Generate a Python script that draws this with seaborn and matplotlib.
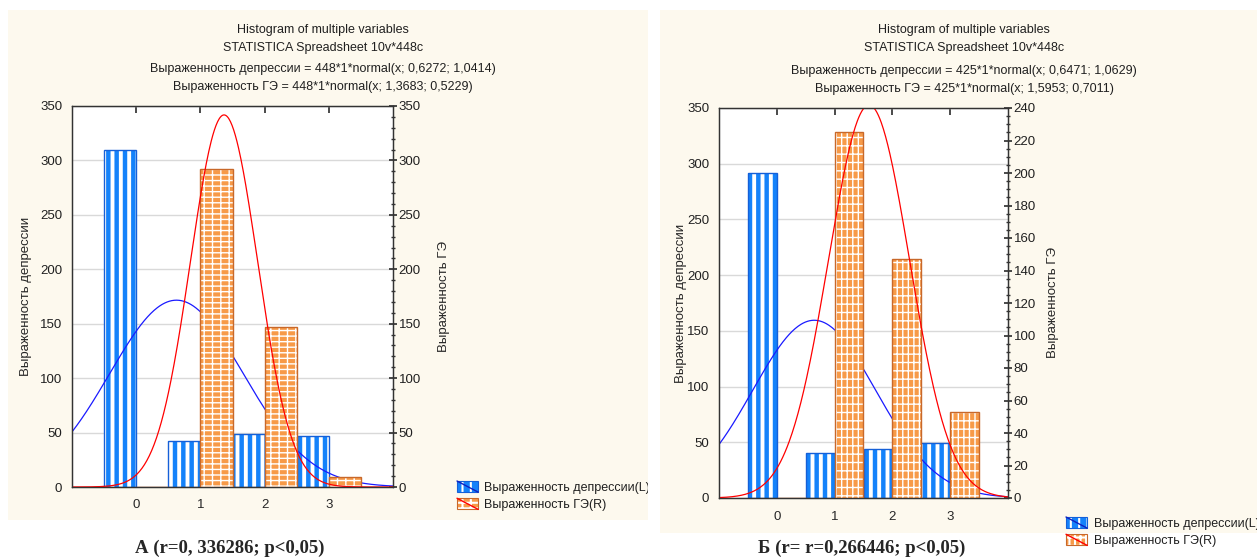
import numpy as np
import pandas as pd
import matplotlib
matplotlib.use('Agg')
import matplotlib.pyplot as plt
import seaborn as sns
from matplotlib.patches import Rectangle, Patch
from matplotlib.lines import Line2D
from matplotlib.legend_handler import HandlerBase
from matplotlib.ticker import MultipleLocator
from matplotlib.transforms import Bbox, TransformedBbox

sns.set_theme(style='white')
plt.rcParams['font.family'] = ['Liberation Sans', 'DejaVu Sans']
plt.rcParams['hatch.linewidth'] = 1.5

# данные
categories = [0, 1, 2, 3]
dep_a = [310, 42, 49, 47]     # Выраженность депрессии, панель А (левая ось)
ge_a = [0, 292, 147, 9]       # Выраженность ГЭ, панель А (правая ось)
dep_b = [292, 40, 44, 49]     # панель Б
ge_b = [0, 225, 147, 53]

# параметры подгонки: n, среднее, sd (из заголовков)
fit_dep_a = [448, 0.6272, 1.0414]
fit_ge_a = [448, 1.3683, 0.5229]
fit_dep_b = [425, 0.6471, 1.0629]
fit_ge_b = [425, 1.5953, 0.7011]

header_a = ['Histogram of multiple variables',
            'STATISTICA Spreadsheet 10v*448c',
            'Выраженность депрессии = 448*1*normal(x; 0,6272; 1,0414)',
            'Выраженность ГЭ = 448*1*normal(x; 1,3683; 0,5229)']
header_b = ['Histogram of multiple variables',
            'STATISTICA Spreadsheet 10v*448c',
            'Выраженность депрессии = 425*1*normal(x; 0,6471; 1,0629)',
            'Выраженность ГЭ = 425*1*normal(x; 1,5953; 0,7011)']
captions = ['А (r=0, 336286; p<0,05)', 'Б (r= r=0,266446; p<0,05)']
legend_labels = ['Выраженность депрессии(L)', 'Выраженность ГЭ(R)']

BG = '#FDF9EE'
BLUE, BLUE_EDGE = '#1482FA', '#1560D8'
ORANGE, ORANGE_EDGE = '#F79A48', '#C8682A'
W, H = 1257, 560


def fx(px):
    return px / W


def fy(py):
    return 1 - py / H


class Swatch(HandlerBase):
    def __init__(self, face, hatch, edge, line):
        super().__init__()
        self.face, self.hatch, self.edge, self.line = face, hatch, edge, line

    def create_artists(self, legend, orig_handle, xdescent, ydescent,
                       width, height, fontsize, trans):
        x0, y0 = -xdescent, -ydescent
        r = Rectangle((x0, y0), width, height, facecolor=self.face,
                      edgecolor='white', hatch=self.hatch, lw=0, transform=trans)
        b = Rectangle((x0, y0), width, height, fill=False,
                      edgecolor=self.edge, lw=0.8, transform=trans)
        ln = Line2D([x0, x0 + width], [y0 + height, y0], color=self.line,
                    lw=1, transform=trans)
        return [r, b, ln]


def normal_curve(fit, xs):
    n, m, s = fit
    return n * np.exp(-0.5 * ((xs - m) / s) ** 2) / (s * np.sqrt(2 * np.pi))


def bars(ax, xpos, vals, face, edge, hatch, hatch_lw):
    df = pd.DataFrame({'x': xpos, 'y': vals})
    n0 = len(ax.patches)
    with plt.rc_context({'hatch.linewidth': hatch_lw}):
        sns.barplot(data=df, x='x', y='y', native_scale=True, width=0.5,
                    color=face, saturation=1, errorbar=None, ax=ax,
                    edgecolor='white', linewidth=0, hatch=hatch)
    for p in ax.patches[n0:]:
        if hasattr(p, 'set_hatch_linewidth'):
            p.set_hatch_linewidth(hatch_lw)
    sns.barplot(data=df, x='x', y='y', native_scale=True, width=0.5,
                color=edge, fill=False, errorbar=None, ax=ax, linewidth=1)


def panel(box, bg, dep, ge, fdep, fge, rmax, rstep, rminor, ge_hatch,
          header, hx, hys, ylab_l, ylab_r, lab_px, leg_xy, clip_x):
    fig.add_artist(Rectangle((fx(bg[0]), fy(bg[3])), fx(bg[2] - bg[0]),
                             (bg[3] - bg[1]) / H, transform=fig.transFigure,
                             facecolor=BG, edgecolor='none', zorder=-5))
    x0, y0, x1, y1 = box
    ax = fig.add_axes([fx(x0), fy(y1), fx(x1 - x0), (y1 - y0) / H])
    ax.set_facecolor('white')
    ax2 = ax.twinx()

    cats = np.array(categories, dtype=float)
    xs = np.linspace(-1, 4, 400)

    bars(ax, cats - 0.25, dep, BLUE, BLUE_EDGE, '||', 2.8)
    sns.lineplot(x=xs, y=normal_curve(fdep, xs), ax=ax, color='#1A1AFF', lw=0.9)
    bars(ax2, cats + 0.25, ge, ORANGE, ORANGE_EDGE, ge_hatch, 1.0)
    sns.lineplot(x=xs, y=normal_curve(fge, xs), ax=ax2, color='#FF0000', lw=0.9)

    ax.set_xlim(-1, 4)
    ax.set_ylim(0, 350)
    ax2.set_ylim(0, rmax)
    ax.set_xticks(categories)
    ax.set_xticklabels([str(c) for c in categories])
    ax.yaxis.set_major_locator(MultipleLocator(50))
    ax2.yaxis.set_major_locator(MultipleLocator(rstep))
    ax2.yaxis.set_minor_locator(MultipleLocator(rminor))
    ax.set_axisbelow(True)
    ax.yaxis.grid(True, color='#D9D9D9', lw=1)
    ax.xaxis.grid(False)
    ax.tick_params(axis='x', bottom=False, top=True, labelbottom=True,
                   direction='in', length=5, color='#333333', labelsize=9.5, pad=9)
    ax.tick_params(axis='y', length=0, labelsize=9.5, pad=7, labelcolor='#202020')
    ax2.tick_params(axis='y', which='major', direction='inout', length=6,
                    right=True, color='#333333', labelsize=9.5, pad=1,
                    labelcolor='#202020')
    ax2.tick_params(axis='y', which='minor', direction='inout', length=3,
                    right=True, color='#333333')
    for a in (ax, ax2):
        for s in a.spines.values():
            s.set_color('#333333')
            s.set_linewidth(0.9)
            s.set_visible(True)
    ax.set_xlabel('')
    ax.set_ylabel(ylab_l, fontsize=9.5)
    ax2.set_ylabel(ylab_r, fontsize=9.5)
    ax.yaxis.set_label_coords((lab_px[0] - x0) / (x1 - x0), 0.5)
    ax2.yaxis.set_label_coords((lab_px[1] - x0) / (x1 - x0), 0.5)

    for line, y in zip(header, hys):
        fig.text(fx(hx), fy(y), line, ha='center', va='center', fontsize=9,
                 color='#202020')

    h1, h2 = Patch(), Patch()
    leg = fig.legend([h1, h2], legend_labels, loc='upper left',
                     bbox_to_anchor=(fx(leg_xy[0]), fy(leg_xy[1])),
                     frameon=False, fontsize=9, handlelength=1.7,
                     handleheight=1.0, labelspacing=0.35, handletextpad=0.5,
                     borderpad=0, borderaxespad=0,
                     handler_map={h1: Swatch(BLUE, '||', BLUE_EDGE, '#1020C0'),
                                  h2: Swatch(ORANGE, ge_hatch, ORANGE_EDGE, '#FF0000')})
    for t in leg.get_texts():
        t.set_color('#202020')
        if clip_x is not None:
            t.set_clip_box(TransformedBbox(Bbox([[0, 0], [fx(clip_x), 1]]),
                                           fig.transFigure))
            t.set_clip_on(True)
    return ax, ax2


fig = plt.figure(figsize=(W / 100, H / 100), dpi=100)

panel((72, 106, 393, 487), (8, 10, 648, 520), dep_a, ge_a, fit_dep_a, fit_ge_a,
      350, 50, 10, '---||', header_a, 323, [30, 48, 69, 87],
      'Выраженность депрессии', 'Выраженность ГЭ', (32, 438), (457, 481), 648)
panel((719, 108, 1008, 498), (660, 10, 1257, 533), dep_b, ge_b, fit_dep_b, fit_ge_b,
      240, 20, 5, '|||--', header_b, 964, [30, 48, 71, 89],
      'Выраженность депрессии', 'Выраженность ГЭ', (687, 1047), (1066, 517), None)

fig.text(fx(230), fy(548), captions[0], ha='center', va='center',
         fontsize=13.5, fontweight='bold', family=['Liberation Serif', 'DejaVu Serif'])
fig.text(fx(862), fy(548), captions[1], ha='center', va='center',
         fontsize=13.5, fontweight='bold', family=['Liberation Serif', 'DejaVu Serif'])

fig.savefig('out.png', dpi=100, facecolor='white')
